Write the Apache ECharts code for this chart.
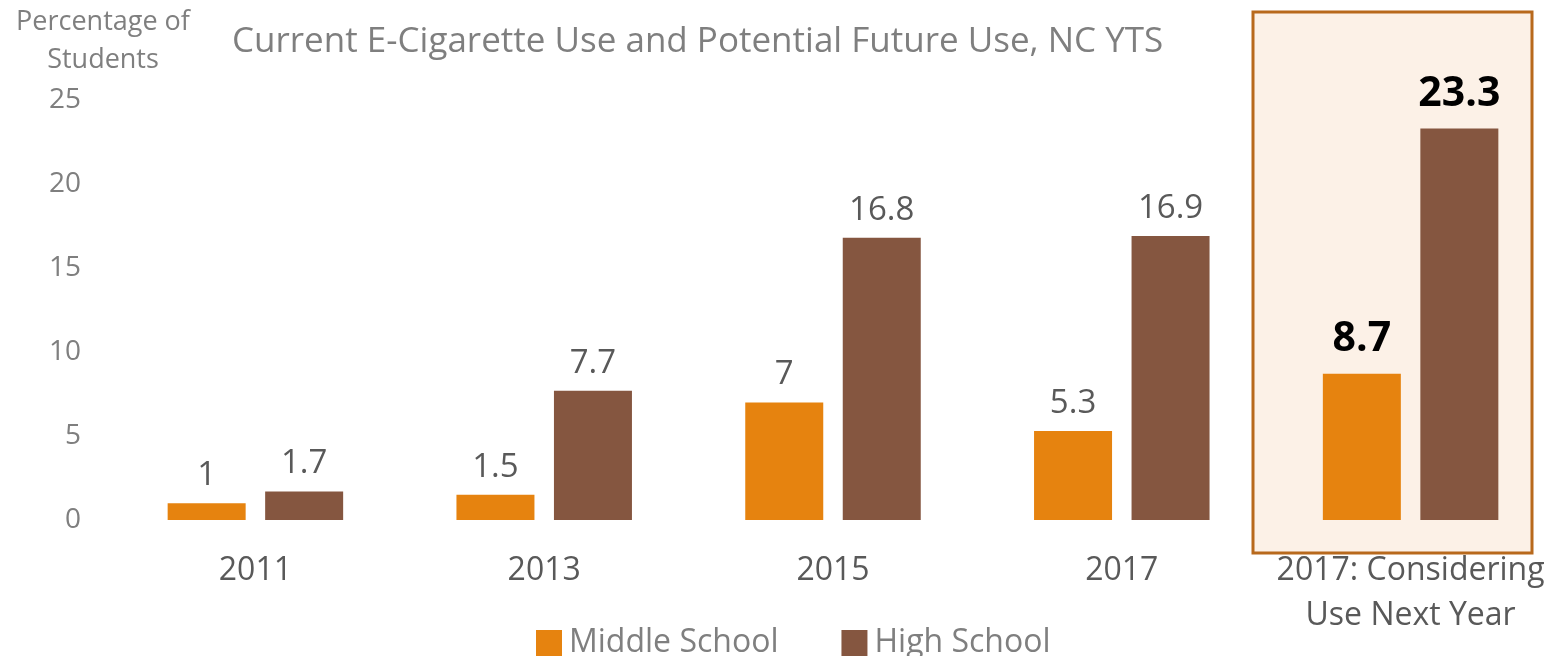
<!DOCTYPE html>
<html>
<head>
<meta charset="utf-8">
<script src="https://cdn.jsdelivr.net/npm/echarts@6/dist/echarts.min.js"></script>
<style>
  html, body { margin: 0; padding: 0; background: #ffffff; }
  #chart { width: 1555px; height: 656px; }
</style>
</head>
<body>
<div id="chart"></div>
<script>
// Survey years plus the "considering use" group
const categories = ['2011', '2013', '2015', '2017', '2017: Considering\nUse Next Year'];
const middleSchool = [1, 1.5, 7, 5.3, 8.7];
const highSchool = [1.7, 7.7, 16.8, 16.9, 23.3];
const yTicks = { min: 0, max: 25, interval: 5 };

const ORANGE = '#E6830F';
const BROWN = '#855640';
const FONT = '"Open Sans", "Noto Sans", sans-serif';
const highlightIndex = categories.length - 1;

// Last group gets bold black value labels
function withLabels(values) {
  return values.map((v, i) => i === highlightIndex
    ? { value: v, label: { fontSize: 41, fontWeight: 'bold', color: '#000000', distance: 14 } }
    : { value: v });
}

const chart = echarts.init(document.getElementById('chart'), null, { renderer: 'canvas' });

chart.setOption({
  backgroundColor: '#ffffff',
  animation: false,
  title: {
    text: 'Current E-Cigarette Use and Potential Future Use, NC YTS',
    left: 227,
    top: 20,
    textStyle: { fontFamily: FONT, fontSize: 35, fontWeight: 'normal', color: '#7f7f7f' }
  },
  legend: {
    bottom: -8,
    left: 531,
    itemWidth: 26,
    itemHeight: 26,
    itemGap: 63,
    icon: 'rect',
    textStyle: { fontFamily: FONT, fontSize: 32, color: '#7f7f7f', padding: [0, 0, 0, 2] },
    data: ['Middle School', 'High School']
  },
  graphic: [{
    type: 'rect',
    z: -10,
    silent: true,
    shape: { x: 1253, y: 12, width: 279, height: 541 },
    style: { fill: '#FCF1E7', stroke: '#B8691C', lineWidth: 3 }
  }],
  grid: { left: 111, top: 100, width: 1446, height: 420 },
  xAxis: {
    type: 'category',
    data: categories,
    axisLine: { show: false },
    axisTick: { show: false },
    axisLabel: {
      fontFamily: FONT, fontSize: 32, color: '#595959',
      lineHeight: 45, margin: 28, interval: 0
    }
  },
  yAxis: {
    type: 'value',
    min: yTicks.min,
    max: yTicks.max,
    interval: yTicks.interval,
    name: 'Percentage of\nStudents',
    nameLocation: 'end',
    nameGap: 21,
    nameTextStyle: {
      fontFamily: FONT, fontSize: 27, color: '#7f7f7f',
      align: 'center', verticalAlign: 'bottom', lineHeight: 38,
      padding: [0, 16, 0, 0]
    },
    axisLine: { show: false },
    axisTick: { show: false },
    splitLine: { show: false },
    axisLabel: { fontFamily: FONT, fontSize: 28, color: '#7f7f7f', margin: 30, padding: [4, 0, 0, 0] }
  },
  series: [
    {
      name: 'Middle School',
      type: 'bar',
      data: withLabels(middleSchool),
      barWidth: 78,
      barGap: '25%',
      itemStyle: { color: ORANGE },
      label: { show: true, position: 'top', distance: 11, fontFamily: FONT, fontSize: 33, color: '#595959' },
      z: 2
    },
    {
      name: 'High School',
      type: 'bar',
      data: withLabels(highSchool),
      barWidth: 78,
      itemStyle: { color: BROWN },
      label: { show: true, position: 'top', distance: 11, fontFamily: FONT, fontSize: 33, color: '#595959' },
      z: 2
    }
  ]
});
</script>
</body>
</html>
